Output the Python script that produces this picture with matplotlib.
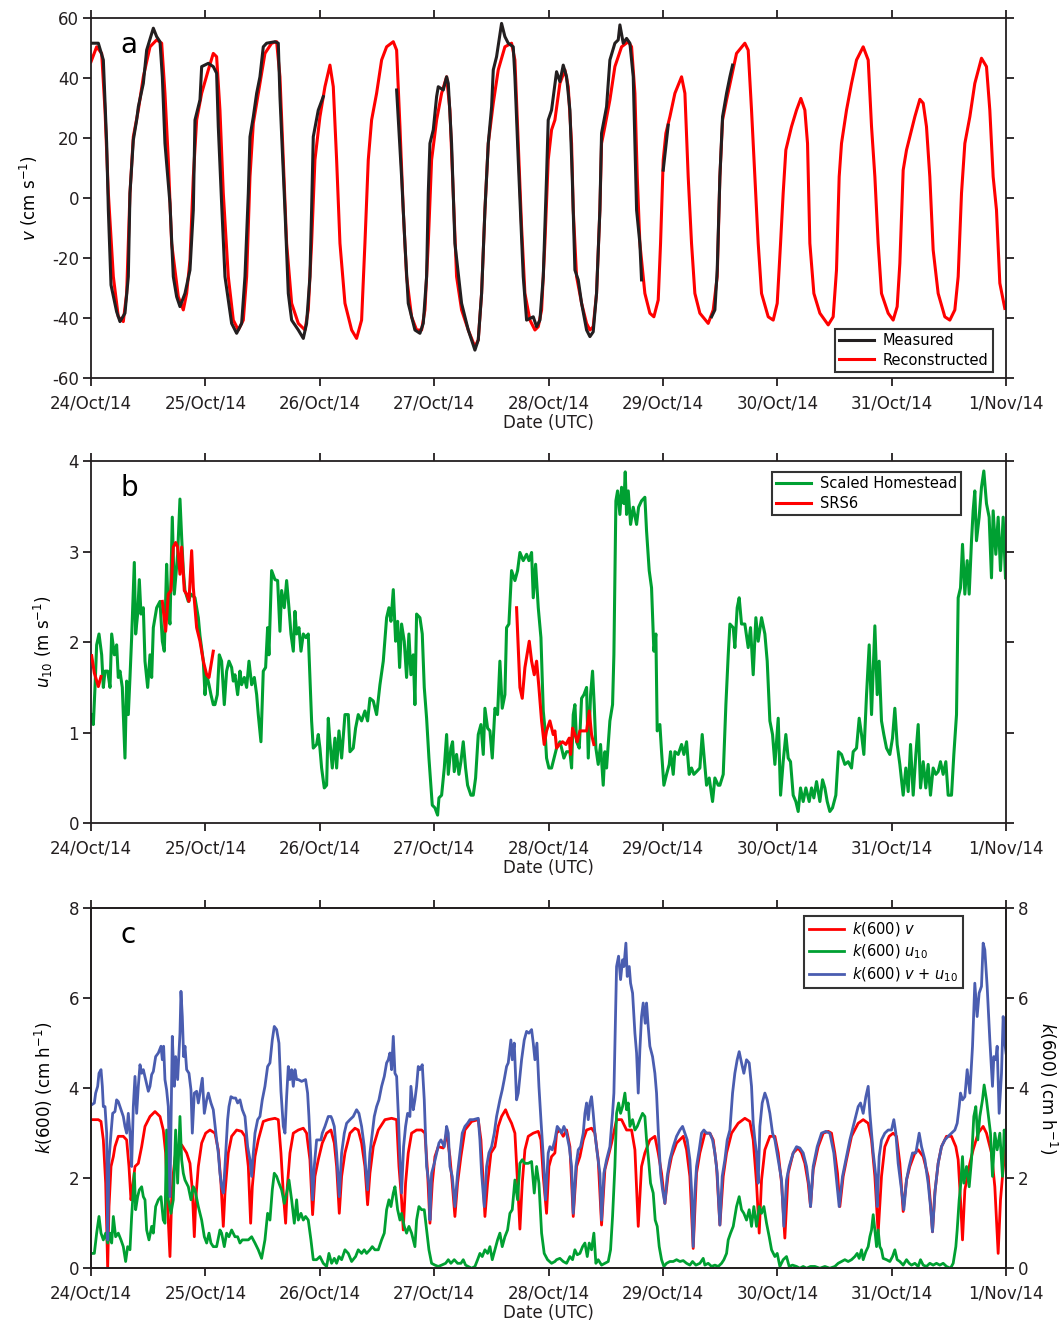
import numpy as np
import matplotlib
matplotlib.use("Agg")
import matplotlib.pyplot as plt

plt.rcParams['font.family'] = ['DejaVu Sans']
plt.rcParams['axes.unicode_minus'] = False

# -----------------------------
# x axis: hours after 24/Oct/14 00:00 UTC
# -----------------------------
day_labels = ['24/Oct/14', '25/Oct/14', '26/Oct/14', '27/Oct/14', '28/Oct/14',
              '29/Oct/14', '30/Oct/14', '31/Oct/14', '1/Nov/14']
day_hours = [0, 24, 48, 72, 96, 120, 144, 168, 192]

# -----------------------------
# panel a : v (cm/s)
# -----------------------------
rec_h = [0.0, 1.19, 2.24, 2.94, 3.64, 4.69, 5.73, 6.78, 7.48, 8.18,
         8.88, 9.93, 10.98, 12.38, 13.78, 14.83, 15.52, 16.22, 16.92, 18.32,
         19.37, 20.07, 20.77, 21.47, 22.17, 23.22, 24.62, 25.66, 26.36, 27.06,
         27.76, 28.81, 29.86, 30.91, 31.96, 32.66, 33.36, 34.06, 35.10, 36.50,
         37.90, 38.95, 39.65, 40.35, 41.05, 42.10, 43.50, 44.90, 45.59, 46.29,
         46.99, 48.04, 49.09, 50.14, 50.84, 51.54, 52.24, 53.29, 54.69, 55.73,
         56.78, 57.48, 58.18, 58.88, 59.93, 60.98, 62.03, 63.43, 64.13, 64.83,
         65.52, 66.22, 67.27, 68.32, 69.37, 70.07, 70.77, 71.47, 72.52, 73.57,
         74.62, 75.31, 76.01, 76.71, 77.76, 79.16, 80.56, 81.26, 81.96, 82.66,
         83.36, 84.41, 85.45, 86.85, 88.25, 88.95, 89.65, 90.35, 91.05, 92.10,
         93.15, 93.85, 94.55, 95.24, 95.94, 96.64, 97.34, 98.39, 99.44, 100.14,
         100.84, 101.19, 101.89, 102.94, 103.99, 104.69, 105.38, 106.08, 106.78, 107.13,
         107.83, 108.88, 109.93, 111.33, 112.73, 113.43, 114.13, 114.62, 115.17, 116.22,
         117.27, 118.11, 119.02, 119.51, 120.07, 120.63, 121.47, 122.52, 123.92, 124.62,
         125.31, 126.01, 126.71, 127.76, 129.51, 130.56, 131.40, 131.96, 132.52, 133.36,
         134.41, 135.45, 137.20, 137.90, 138.60, 139.30, 140.00, 140.70, 142.10, 143.15,
         143.99, 144.69, 145.24, 145.80, 146.99, 148.04, 148.95, 149.79, 150.35, 150.84,
         151.68, 152.94, 154.69, 155.73, 156.43, 156.99, 157.48, 158.53, 159.58, 160.63,
         162.03, 163.08, 163.78, 164.48, 165.17, 165.87, 167.27, 168.32, 169.16, 169.72,
         170.42, 171.12, 171.82, 172.87, 173.92, 174.62, 175.31, 176.01, 176.71, 177.76,
         179.16, 180.21, 181.26, 181.96, 182.66, 183.36, 184.41, 185.45, 186.85, 187.90,
         188.60, 189.30, 190.00, 190.70, 191.75]
rec_v = [45.4, 50.4, 48.2, 29.3, 1.6, -26.2, -39.6, -41.2, -31.8, 1.6,
         20.4, 29.3, 40.4, 50.4, 52.7, 51.6, 34.9, 12.7, -15.1, -32.9,
         -37.3, -31.8, -20.7, 7.1, 26.0, 34.9, 42.7, 48.2, 47.1, 29.3,
         1.6, -26.2, -40.7, -44.0, -40.7, -26.2, 7.1, 24.9, 34.9, 48.2,
         51.6, 52.1, 40.4, 12.7, -15.1, -35.1, -41.8, -44.0, -37.3, -15.1,
         12.7, 27.1, 37.1, 44.3, 37.1, 12.7, -15.1, -35.1, -44.0, -46.8,
         -40.7, -15.1, 12.7, 26.0, 34.9, 46.0, 50.4, 52.1, 49.3, 23.8,
         -4.0, -26.2, -39.6, -44.0, -44.0, -37.3, -15.1, 12.7, 26.0, 34.9,
         40.4, 29.3, 1.6, -26.2, -37.3, -44.0, -49.6, -47.3, -31.8, -4.0,
         18.2, 31.6, 42.7, 50.4, 51.6, 46.0, 18.2, -9.6, -31.8, -40.7,
         -44.0, -42.9, -37.3, -15.1, 12.7, 22.7, 26.0, 38.2, 42.7, 37.1,
         18.2, -4.0, -26.2, -35.1, -41.8, -44.0, -42.9, -31.8, -4.0, 18.2,
         23.8, 32.7, 43.8, 50.4, 52.1, 50.4, 34.9, 7.1, -15.1, -31.8,
         -38.4, -39.6, -34.0, -15.1, 12.7, 21.6, 27.1, 34.9, 40.4, 34.9,
         7.1, -15.1, -31.8, -38.4, -41.8, -37.3, -26.2, 7.1, 26.0, 32.7,
         40.4, 48.2, 51.6, 49.3, 29.3, 7.1, -15.1, -31.8, -39.6, -40.7,
         -35.1, -15.1, 1.6, 16.0, 23.8, 29.3, 33.2, 29.3, 18.2, -15.1,
         -31.8, -38.4, -42.3, -39.6, -24.0, 7.1, 18.2, 29.3, 38.2, 46.0,
         50.4, 46.0, 23.8, 7.1, -15.1, -31.8, -38.4, -40.7, -36.2, -21.8,
         9.3, 16.0, 20.4, 27.1, 32.9, 31.6, 23.8, 7.1, -17.3, -31.8,
         -39.6, -40.7, -37.3, -26.2, 1.6, 18.2, 27.1, 38.2, 46.6, 43.8,
         29.3, 7.1, -4.0, -28.4, -36.8]

nan = np.nan
meas_h = [0.14, 1.54, 2.59, 3.29, 3.64, 4.20, 5.38, 6.08, 7.13, 7.83,
          8.18, 8.88, 9.58, 9.93, 10.98, 11.68, 13.08, 13.78, 14.48, 14.97,
          15.52, 16.57, 17.27, 17.97, 18.67, 19.72, 20.77, 21.47, 21.82, 22.87,
          23.22, 24.62, 25.66, 26.36, 26.71, 27.41, 28.11, 29.51, 30.56, 31.61,
          32.31, 33.01, 33.36, 34.06, 34.76, 35.45, 36.15, 36.85, 38.60, 39.30,
          39.65, 40.70, 41.40, 42.10, 43.50, 44.55, 45.24, 45.94, 46.29, 46.64,
          47.69, 48.74, nan, 64.13, 65.17, 65.87, 66.57, 67.97, 69.02, 69.72,
          70.42, 70.77, 71.12, 71.82, 72.52, 72.87, 73.92, 74.62, 74.97, 75.66,
          76.36, 77.76, 79.16, 80.56, 81.26, 81.96, 82.66, 83.36, 84.06, 84.41,
          85.10, 86.15, 86.85, 87.55, 88.60, 88.95, 89.65, 90.70, 91.40, 92.80,
          93.50, 94.20, 94.90, 95.59, 95.94, 96.64, 97.69, 98.39, 99.09, 99.79,
          100.49, 100.98, 101.54, 102.24, 102.94, 103.99, 104.69, 105.38, 106.08, 106.78,
          107.13, 108.18, 108.88, 109.93, 110.63, 110.98, 111.68, 112.38, 113.08, 113.78,
          114.48, 115.17, 115.52, nan, 120.07, 121.12, nan, 130.21, 130.91, 131.40,
          131.96, 132.52, 133.36, 134.06, 134.62]
meas_v = [51.6, 51.6, 46.0, 18.2, -4.0, -29.0, -37.9, -41.2, -38.4, -26.2,
          1.6, 19.3, 26.0, 30.4, 38.2, 49.3, 56.6, 53.8, 52.1, 40.4,
          18.2, -1.8, -26.2, -32.9, -36.2, -31.8, -24.0, -4.0, 26.0, 32.7,
          43.8, 44.9, 43.8, 41.6, 23.8, -1.8, -26.2, -41.8, -45.1, -41.8,
          -26.2, 1.6, 20.4, 27.1, 34.9, 40.4, 50.4, 51.6, 52.1, 51.6,
          33.8, -4.0, -31.8, -40.7, -44.0, -46.8, -41.8, -26.2, -4.0, 20.4,
          29.3, 33.8, nan, 36.0, 7.1, -15.1, -35.1, -44.0, -45.1, -41.8,
          -26.2, 1.6, 18.2, 22.7, 33.8, 37.1, 36.0, 40.4, 38.2, 18.2,
          -15.1, -35.1, -44.0, -50.7, -47.3, -31.8, -4.0, 18.2, 30.4, 42.7,
          47.1, 58.2, 53.8, 51.6, 50.4, 40.4, 12.7, -26.2, -40.7, -39.6,
          -42.9, -40.7, -26.2, 7.1, 26.0, 29.3, 42.1, 38.8, 44.3, 40.4,
          29.3, 7.1, -24.0, -27.3, -35.1, -44.0, -46.2, -44.6, -31.8, -4.0,
          21.6, 30.4, 46.0, 51.6, 52.7, 57.7, 51.6, 53.2, 51.6, 40.4,
          -4.0, -15.1, -27.3, nan, 9.3, 24.3, nan, -39.6, -37.3, -24.0,
          7.1, 27.1, 34.9, 40.4, 44.3]

# -----------------------------
# panel b : u10 (m/s)
# -----------------------------
home_h = [0.0, 0.49, 0.84, 1.19, 1.68, 2.24, 2.59, 2.94, 3.50, 3.99,
          4.34, 4.90, 5.38, 5.73, 6.08, 6.57, 7.13, 7.48, 7.83, 8.18,
          8.53, 9.09, 9.37, 9.79, 10.14, 10.49, 10.98, 11.33, 11.89, 12.38,
          12.73, 13.08, 13.78, 14.48, 14.97, 15.38, 15.87, 16.22, 16.57, 17.06,
          17.48, 18.18, 18.67, 19.02, 19.37, 19.72, 20.42, 20.98, 21.82, 22.52,
          22.87, 23.57, 23.92, 24.27, 24.76, 25.17, 25.66, 26.01, 26.50, 26.92,
          27.41, 27.97, 28.46, 28.95, 29.51, 29.86, 30.21, 30.77, 31.26, 31.61,
          32.17, 32.66, 33.15, 33.71, 34.27, 34.76, 35.10, 35.66, 36.15, 36.64,
          37.06, 37.34, 37.90, 38.60, 39.16, 39.65, 40.00, 40.56, 41.05, 41.54,
          41.96, 42.45, 42.80, 43.15, 43.64, 44.06, 44.55, 45.10, 45.59, 46.29,
          46.64, 47.34, 47.69, 48.04, 48.39, 48.95, 49.44, 49.79, 50.14, 50.63,
          51.19, 51.54, 52.03, 52.59, 53.29, 53.99, 54.34, 55.03, 55.52, 56.08,
          56.78, 57.48, 58.04, 58.53, 59.23, 59.93, 60.63, 61.33, 62.03, 62.52,
          62.94, 63.43, 63.92, 64.34, 64.76, 65.17, 65.73, 66.22, 66.71, 67.13,
          67.62, 67.97, 68.32, 69.02, 69.51, 69.93, 70.42, 70.91, 71.61, 72.17,
          72.73, 73.01, 73.57, 74.13, 74.62, 74.97, 75.52, 75.87, 76.22, 76.71,
          77.20, 77.62, 78.11, 78.60, 79.02, 79.72, 80.21, 80.70, 81.26, 81.82,
          82.31, 82.66, 83.22, 83.71, 84.20, 84.76, 85.31, 85.80, 86.29, 86.85,
          87.20, 87.69, 88.25, 88.95, 89.51, 90.00, 90.70, 91.40, 91.89, 92.45,
          92.80, 93.29, 93.85, 94.41, 94.90, 95.24, 95.59, 96.08, 96.64, 97.34,
          97.69, 98.39, 98.74, 99.23, 99.79, 100.49, 100.84, 101.19, 101.54, 101.89,
          102.45, 102.94, 103.43, 103.99, 104.34, 104.83, 105.24, 105.59, 105.94, 106.43,
          106.92, 107.48, 107.83, 108.18, 108.88, 109.44, 109.72, 110.14, 110.49, 110.98,
          111.33, 111.82, 112.10, 112.38, 112.73, 113.22, 113.78, 114.48, 114.90, 115.52,
          116.22, 116.57, 117.13, 117.62, 118.11, 118.53, 118.81, 119.37, 119.72, 120.21,
          120.77, 121.33, 121.61, 122.17, 122.52, 123.22, 123.92, 124.41, 124.97, 125.52,
          126.01, 126.50, 127.06, 127.76, 128.25, 128.60, 129.16, 129.72, 130.42, 130.91,
          131.61, 131.96, 132.66, 133.22, 133.71, 134.06, 134.76, 135.10, 135.59, 136.01,
          136.50, 137.20, 137.90, 138.39, 138.95, 139.51, 140.00, 140.70, 141.40, 141.89,
          142.45, 143.01, 143.50, 144.20, 144.69, 145.24, 145.80, 146.29, 146.78, 147.34,
          147.90, 148.39, 148.88, 149.44, 150.00, 150.70, 151.19, 151.68, 152.24, 152.94,
          153.50, 153.99, 154.48, 155.03, 155.59, 156.29, 156.85, 157.48, 158.18, 158.88,
          159.58, 159.93, 160.63, 161.19, 161.68, 162.17, 162.73, 163.29, 163.78, 164.48,
          164.97, 165.38, 165.87, 166.36, 166.92, 167.62, 168.18, 168.67, 169.16, 169.72,
          170.42, 170.98, 171.47, 171.96, 172.52, 173.08, 173.57, 174.06, 174.62, 175.17,
          175.66, 176.15, 176.71, 177.27, 177.76, 178.25, 178.81, 179.37, 179.86, 180.56,
          181.05, 181.61, 181.96, 182.45, 182.87, 183.36, 183.85, 184.27, 184.76, 185.10,
          185.45, 185.80, 186.36, 186.85, 187.34, 187.90, 188.46, 188.95, 189.30, 189.86,
          190.35, 190.84, 191.40, 191.89]
home_u = [1.20, 1.09, 1.50, 1.97, 2.09, 1.86, 1.50, 1.68, 1.68, 1.50,
          2.09, 1.86, 1.97, 1.61, 1.68, 1.50, 0.72, 1.57, 1.20, 1.61,
          2.05, 2.88, 2.09, 2.31, 2.69, 2.31, 2.38, 1.79, 1.50, 1.86,
          1.61, 2.16, 2.38, 2.45, 2.01, 1.90, 2.86, 2.34, 2.20, 3.38,
          2.53, 2.97, 3.58, 3.16, 2.79, 2.57, 2.45, 2.53, 2.49, 2.27,
          2.07, 1.79, 1.42, 1.64, 1.53, 1.42, 1.31, 1.31, 1.42, 1.86,
          1.79, 1.31, 1.68, 1.79, 1.72, 1.57, 1.64, 1.42, 1.68, 1.53,
          1.61, 1.50, 1.79, 1.53, 1.61, 1.42, 1.20, 0.90, 1.68, 1.72,
          2.16, 1.86, 2.79, 2.69, 2.68, 2.12, 2.57, 2.38, 2.68, 2.38,
          2.09, 1.90, 2.34, 2.09, 2.16, 1.90, 2.09, 2.05, 2.09, 1.13,
          0.83, 0.87, 0.98, 0.83, 0.61, 0.39, 0.42, 1.16, 0.90, 0.61,
          0.94, 0.61, 1.02, 0.72, 1.20, 1.20, 0.79, 0.83, 1.05, 1.20,
          1.13, 1.24, 1.13, 1.38, 1.35, 1.20, 1.53, 1.79, 2.27, 2.38,
          2.23, 2.58, 2.01, 2.23, 1.72, 2.20, 2.01, 1.61, 2.09, 1.64,
          1.86, 1.31, 2.31, 2.27, 2.09, 1.50, 1.16, 0.72, 0.20, 0.17,
          0.09, 0.28, 0.31, 0.61, 0.98, 0.54, 0.83, 0.90, 0.57, 0.76,
          0.54, 0.68, 0.90, 0.61, 0.42, 0.31, 0.31, 0.50, 0.98, 1.09,
          0.76, 1.27, 1.05, 1.02, 0.72, 1.27, 1.20, 1.79, 1.27, 1.42,
          2.16, 2.20, 2.79, 2.68, 2.79, 2.99, 2.90, 2.97, 2.90, 2.99,
          2.49, 2.86, 2.38, 2.05, 1.24, 1.05, 0.72, 0.61, 0.61, 0.76,
          0.83, 0.90, 0.83, 0.72, 0.79, 0.79, 0.61, 1.20, 1.31, 0.90,
          0.83, 1.38, 1.42, 1.50, 0.72, 1.42, 1.68, 1.31, 0.83, 0.65,
          0.87, 0.42, 0.79, 0.61, 1.13, 1.31, 1.86, 3.56, 3.67, 3.41,
          3.71, 3.53, 3.88, 3.41, 3.67, 3.30, 3.49, 3.30, 3.49, 3.56,
          3.60, 3.23, 2.79, 2.60, 1.90, 2.09, 1.02, 1.09, 0.79, 0.42,
          0.54, 0.65, 0.79, 0.54, 0.79, 0.76, 0.87, 0.76, 0.90, 0.54,
          0.61, 0.54, 0.57, 0.61, 0.98, 0.76, 0.42, 0.50, 0.24, 0.50,
          0.42, 0.42, 0.54, 1.31, 1.86, 2.20, 2.16, 1.94, 2.38, 2.49,
          2.20, 2.20, 1.94, 2.16, 1.64, 2.27, 2.01, 2.27, 2.09, 1.79,
          1.13, 0.98, 0.65, 1.16, 0.31, 0.68, 0.98, 0.72, 0.68, 0.31,
          0.24, 0.13, 0.39, 0.24, 0.39, 0.24, 0.39, 0.28, 0.46, 0.24,
          0.48, 0.39, 0.24, 0.13, 0.17, 0.31, 0.79, 0.76, 0.65, 0.68,
          0.61, 0.79, 0.83, 1.16, 0.98, 0.76, 1.42, 1.97, 1.20, 2.18,
          1.42, 1.79, 1.13, 0.98, 0.83, 0.76, 0.94, 1.27, 0.87, 0.65,
          0.31, 0.61, 0.35, 0.87, 0.31, 0.76, 1.09, 0.39, 0.68, 0.39,
          0.65, 0.31, 0.61, 0.54, 0.57, 0.68, 0.54, 0.68, 0.31, 0.31,
          0.76, 1.20, 2.49, 2.60, 3.08, 2.53, 2.90, 2.53, 3.12, 3.45,
          3.67, 3.12, 3.38, 3.71, 3.89, 3.53, 3.38, 2.71, 3.45, 2.97,
          3.38, 2.79, 3.38, 2.71]

srs_h = [0.14, 0.70, 1.54, 2.10, nan,
         14.97, 15.66, 16.22, 16.78, 17.27, 17.76, 18.18, 18.67, 19.02, 19.58,
         20.07, 20.56, 21.12, 21.47, 22.17, 22.87, 23.57, 24.27, 24.76, 25.66, nan,
         89.30, 90.00, 90.49, 91.05, 91.96, 92.45, 93.01, 93.50, 93.99, 94.55,
         95.10, 95.59, 96.29, 96.99, 97.34, 97.69, 98.25, 98.95, 99.65, 100.35,
         100.63, 101.05, 101.54, 102.03, 102.59, 103.29, 103.99, 104.55, 105.03, 105.52]
srs_u = [1.85, 1.66, 1.51, 1.62, nan,
         2.45, 2.12, 2.53, 2.57, 3.05, 3.10, 3.05, 2.75, 3.05, 2.57,
         2.53, 2.45, 3.01, 2.60, 2.16, 2.01, 1.79, 1.64, 1.61, 1.90, nan,
         2.38, 1.50, 1.38, 1.72, 2.01, 1.79, 1.64, 1.79, 1.50, 1.13,
         0.87, 1.02, 1.13, 0.98, 1.02, 0.83, 0.87, 0.90, 0.87, 0.94,
         0.76, 1.05, 0.98, 0.90, 1.02, 1.02, 1.02, 1.24, 0.98, 0.87]

# -----------------------------
# panel c : k(600) (cm/h)
# -----------------------------
kv_h = [0.14, 1.54, 2.10, 2.59, 3.08, 3.50, 3.78, 4.20, 4.69, 5.03,
        5.73, 6.78, 7.48, 7.97, 8.39, 8.67, 9.23, 9.93, 10.63, 11.33,
        12.38, 13.43, 14.48, 15.17, 15.66, 16.08, 16.57, 16.92, 17.27, 17.76,
        18.32, 19.02, 20.07, 20.77, 21.26, 21.68, 22.03, 22.52, 23.22, 24.06,
        24.97, 26.01, 26.71, 27.27, 27.76, 28.11, 28.81, 29.51, 30.56, 31.61,
        32.31, 33.01, 33.50, 33.85, 34.41, 35.10, 36.15, 37.20, 38.60, 39.30,
        39.86, 40.35, 40.84, 41.19, 41.75, 42.45, 43.50, 44.55, 45.24, 45.94,
        46.50, 46.99, 47.69, 48.53, 49.44, 50.35, 51.05, 51.54, 52.10, 52.59,
        53.29, 54.34, 55.38, 56.08, 56.78, 57.48, 58.04, 58.53, 59.23, 60.28,
        61.68, 63.08, 64.13, 64.62, 65.17, 65.52, 66.01, 66.57, 67.27, 68.32,
        69.37, 70.07, 70.63, 71.12, 71.61, 72.17, 72.87, 73.92, 74.62, 75.31,
        75.80, 76.36, 76.92, 77.62, 78.46, 79.86, 81.26, 81.82, 82.31, 82.66,
        83.22, 83.92, 84.76, 85.45, 86.15, 86.99, 87.55, 88.25, 88.95, 89.51,
        90.00, 90.49, 91.05, 91.75, 92.80, 93.85, 94.41, 94.90, 95.59, 96.08,
        96.64, 97.34, 97.69, 98.39, 99.09, 99.79, 100.49, 101.19, 101.89, 102.59,
        103.29, 103.99, 105.03, 105.73, 106.43, 107.13, 107.83, 108.53, 109.23, 110.28,
        111.33, 112.38, 113.43, 114.13, 114.83, 115.52, 116.22, 117.27, 118.32, 119.02,
        119.72, 120.42, 121.12, 121.82, 122.87, 124.27, 124.97, 125.66, 126.36, 127.06,
        127.76, 128.81, 129.86, 130.56, 131.26, 131.96, 132.66, 133.36, 134.41, 135.80,
        137.20, 138.25, 138.95, 139.65, 140.21, 140.70, 141.40, 142.45, 143.50, 144.20,
        144.90, 145.59, 146.29, 147.34, 148.39, 149.09, 149.79, 150.49, 150.98, 151.54,
        152.59, 153.64, 154.69, 155.38, 156.08, 156.64, 157.13, 157.83, 158.53, 159.58,
        160.98, 162.03, 163.08, 163.78, 164.48, 165.17, 165.87, 166.57, 167.48, 168.32,
        169.02, 169.72, 170.42, 171.12, 171.82, 172.87, 173.57, 174.62, 175.66, 176.15,
        176.57, 177.06, 177.76, 178.46, 179.51, 180.56, 181.47, 181.96, 182.45, 182.87,
        183.36, 184.41, 185.10, 186.15, 187.20, 187.90, 188.95, 189.65, 190.35, 190.84,
        191.26, 191.75, 192.0]
kv_k = [3.30, 3.30, 3.26, 2.85, 1.89, 0.00, 1.37, 2.26, 2.48, 2.70,
        2.93, 2.93, 2.85, 2.26, 1.52, 1.74, 2.26, 2.33, 2.70, 3.15,
        3.37, 3.48, 3.37, 3.07, 2.56, 1.37, 0.26, 1.52, 2.11, 2.56,
        2.70, 2.74, 2.56, 2.33, 1.74, 0.70, 1.59, 2.26, 2.78, 3.00,
        3.07, 3.00, 2.63, 1.89, 0.93, 1.67, 2.56, 2.93, 3.07, 3.04,
        2.93, 2.26, 1.00, 1.81, 2.48, 2.85, 3.26, 3.30, 3.33, 3.30,
        2.56, 1.67, 1.00, 1.81, 2.56, 3.00, 3.07, 3.11, 3.00, 2.41,
        1.19, 2.04, 2.41, 2.78, 3.00, 3.07, 2.78, 2.26, 1.22, 2.04,
        2.56, 3.00, 3.11, 3.07, 2.78, 2.26, 1.41, 2.11, 2.70, 3.07,
        3.30, 3.33, 3.30, 2.26, 1.52, 0.85, 1.89, 2.56, 3.00, 3.07,
        3.07, 3.00, 2.11, 1.00, 1.89, 2.48, 2.70, 2.67, 3.00, 2.48,
        1.89, 1.15, 1.89, 2.48, 3.07, 3.26, 3.30, 2.85, 1.89, 1.15,
        1.89, 2.56, 2.70, 3.15, 3.37, 3.52, 3.37, 3.22, 3.00, 1.89,
        0.87, 1.89, 2.63, 2.93, 3.00, 3.04, 2.85, 2.04, 1.22, 2.26,
        2.48, 2.56, 3.00, 3.07, 2.93, 3.07, 2.70, 1.15, 2.26, 2.48,
        2.85, 3.07, 3.11, 3.00, 2.41, 0.96, 2.19, 2.48, 2.78, 3.30,
        3.30, 3.07, 3.07, 2.63, 0.93, 2.26, 2.56, 2.85, 2.93, 2.56,
        2.11, 1.44, 2.11, 2.48, 2.78, 2.93, 2.63, 2.04, 0.44, 2.11,
        2.56, 3.00, 3.00, 2.85, 2.26, 0.96, 2.04, 2.56, 3.00, 3.22,
        3.33, 3.26, 2.85, 1.89, 0.78, 1.96, 2.63, 2.93, 2.93, 2.56,
        1.89, 0.67, 2.11, 2.56, 2.67, 2.56, 2.33, 1.89, 1.37, 2.19,
        2.70, 3.00, 3.04, 3.00, 2.56, 2.11, 1.37, 2.04, 2.41, 2.93,
        3.22, 3.30, 3.22, 2.85, 2.04, 0.78, 2.04, 2.70, 2.93, 3.00,
        2.93, 2.33, 1.26, 1.96, 2.26, 2.56, 2.63, 2.48, 2.04, 1.44,
        0.81, 1.67, 2.33, 2.70, 2.93, 2.93, 2.70, 2.41, 1.52, 0.63,
        1.74, 2.33, 2.63, 3.00, 3.15, 3.00, 2.56, 1.81, 0.33, 1.52,
        2.04, 2.56, 2.70]

ku_h = [0.14, 0.70, 1.19, 1.68, 2.10, 2.59, 3.08, 3.50, 3.99, 4.34,
        4.69, 5.17, 5.73, 6.29, 6.78, 7.27, 7.69, 8.18, 8.53, 9.09,
        9.37, 9.79, 10.14, 10.63, 10.98, 11.33, 11.68, 12.17, 12.73, 13.08,
        13.57, 14.13, 14.69, 15.17, 15.52, 15.87, 16.22, 16.78, 17.27, 17.76,
        18.18, 18.67, 19.02, 19.37, 19.72, 20.42, 20.98, 21.47, 21.82, 22.52,
        23.22, 23.78, 24.27, 24.76, 25.17, 25.66, 26.36, 27.06, 27.41, 27.97,
        28.46, 28.95, 29.51, 30.21, 30.77, 31.26, 31.75, 32.31, 33.01, 33.71,
        34.41, 35.10, 35.80, 36.50, 37.06, 37.55, 38.04, 38.46, 38.95, 39.44,
        40.00, 40.56, 41.05, 41.54, 42.10, 42.66, 43.15, 43.50, 44.06, 44.55,
        45.03, 45.59, 46.15, 46.64, 47.34, 48.04, 48.74, 49.44, 49.93, 50.49,
        51.05, 51.54, 52.03, 52.59, 53.29, 53.99, 54.69, 55.52, 56.08, 56.78,
        57.34, 57.83, 58.53, 59.02, 59.58, 60.28, 60.98, 61.54, 62.03, 62.52,
        62.94, 63.43, 63.78, 64.34, 64.83, 65.17, 65.73, 66.22, 66.71, 67.27,
        67.97, 68.32, 68.81, 69.37, 69.93, 70.42, 70.91, 71.47, 72.17, 72.87,
        73.57, 74.41, 74.97, 75.52, 76.22, 76.92, 77.62, 78.11, 78.60, 79.16,
        79.86, 80.56, 81.12, 81.61, 82.10, 82.66, 83.22, 83.71, 84.20, 84.76,
        85.31, 85.80, 86.29, 86.85, 87.41, 87.90, 88.39, 88.95, 89.51, 90.00,
        90.49, 91.05, 91.75, 92.45, 93.01, 93.50, 93.99, 94.55, 95.10, 95.80,
        96.64, 97.34, 97.69, 98.39, 99.09, 99.79, 100.49, 101.05, 101.54, 102.03,
        102.59, 103.15, 103.64, 104.13, 104.55, 105.03, 105.52, 105.94, 106.43, 107.13,
        107.83, 108.53, 109.02, 109.44, 109.93, 110.28, 110.70, 111.12, 111.54, 112.03,
        112.38, 112.73, 113.08, 113.64, 114.13, 114.62, 115.17, 115.73, 116.22, 116.57,
        116.99, 117.41, 117.97, 118.39, 118.81, 119.23, 119.72, 120.21, 120.77, 121.47,
        122.17, 122.87, 123.57, 124.27, 124.97, 125.66, 126.22, 126.92, 127.76, 128.46,
        128.81, 129.51, 130.21, 130.91, 131.61, 132.31, 132.80, 133.36, 133.71, 134.20,
        134.76, 135.45, 136.01, 136.50, 136.99, 137.55, 138.11, 138.60, 139.09, 139.65,
        140.21, 140.70, 141.19, 141.75, 142.31, 142.80, 143.50, 143.99, 144.55, 145.24,
        145.94, 146.50, 147.20, 148.04, 148.74, 149.44, 150.14, 150.98, 151.89, 152.94,
        153.99, 155.03, 156.08, 156.78, 157.48, 158.18, 158.88, 159.58, 160.28, 160.77,
        161.19, 161.68, 162.03, 162.59, 163.08, 163.43, 163.78, 164.13, 164.48, 164.83,
        165.17, 165.52, 165.87, 166.22, 166.92, 167.62, 168.18, 168.67, 169.16, 169.72,
        170.42, 171.12, 171.68, 172.17, 172.87, 173.57, 174.06, 174.62, 175.31, 176.01,
        176.71, 177.41, 178.11, 178.81, 179.51, 180.35, 180.91, 181.47, 181.75, 182.17,
        182.45, 182.87, 183.15, 183.71, 184.27, 184.76, 185.24, 185.66, 186.08, 186.50,
        187.06, 187.41, 187.90, 188.32, 188.74, 189.16, 189.65, 190.14, 190.70, 191.26,
        191.61, 192.0]
ku_k = [0.33, 0.33, 0.78, 1.15, 0.78, 0.63, 0.78, 0.56, 0.78, 0.56,
        1.15, 0.70, 0.78, 0.63, 0.48, 0.15, 0.48, 0.41, 1.15, 2.11,
        1.30, 1.59, 1.74, 1.81, 1.59, 1.52, 0.85, 0.63, 0.93, 0.78,
        1.37, 1.52, 1.59, 1.07, 1.00, 3.07, 1.52, 1.22, 1.52, 3.07,
        1.89, 3.37, 2.41, 2.11, 1.96, 1.81, 1.52, 1.81, 1.74, 1.37,
        1.07, 0.70, 0.56, 0.78, 0.56, 0.48, 0.48, 0.85, 0.78, 0.48,
        0.78, 0.70, 0.85, 0.70, 0.70, 0.56, 0.63, 0.63, 0.63, 0.70,
        0.56, 0.41, 0.22, 0.63, 1.22, 1.07, 1.74, 2.11, 2.04, 1.89,
        1.74, 1.44, 1.67, 1.96, 1.52, 1.00, 1.52, 1.07, 1.22, 1.07,
        1.15, 1.07, 0.63, 0.19, 0.19, 0.26, 0.11, 0.04, 0.33, 0.11,
        0.22, 0.11, 0.26, 0.19, 0.41, 0.33, 0.15, 0.26, 0.41, 0.33,
        0.41, 0.33, 0.41, 0.48, 0.41, 0.41, 0.63, 0.78, 1.30, 1.52,
        1.37, 1.67, 1.81, 1.30, 1.07, 1.22, 0.93, 0.78, 0.93, 0.78,
        0.48, 1.07, 1.37, 1.30, 1.30, 0.85, 0.41, 0.11, 0.07, 0.04,
        0.07, 0.11, 0.19, 0.11, 0.19, 0.11, 0.11, 0.19, 0.07, 0.04,
        0.00, 0.04, 0.19, 0.33, 0.26, 0.41, 0.33, 0.48, 0.19, 0.41,
        0.63, 0.78, 0.48, 0.70, 0.85, 1.22, 1.30, 1.96, 1.52, 2.33,
        2.41, 2.33, 2.33, 2.37, 1.67, 2.26, 1.89, 0.78, 0.33, 0.19,
        0.11, 0.15, 0.19, 0.22, 0.15, 0.11, 0.26, 0.19, 0.41, 0.30,
        0.33, 0.48, 0.56, 0.26, 0.56, 0.41, 0.78, 0.11, 0.19, 0.07,
        0.11, 0.15, 0.41, 1.15, 2.26, 3.44, 3.67, 3.44, 3.59, 3.89,
        3.52, 3.67, 3.15, 3.30, 3.07, 3.15, 3.30, 3.44, 3.37, 2.85,
        2.41, 1.89, 1.67, 1.07, 0.93, 0.48, 0.19, 0.04, 0.11, 0.15,
        0.15, 0.19, 0.15, 0.17, 0.11, 0.07, 0.15, 0.07, 0.11, 0.22,
        0.07, 0.11, 0.04, 0.07, 0.04, 0.11, 0.19, 0.33, 0.63, 0.78,
        0.93, 1.37, 1.59, 1.30, 1.22, 1.07, 1.30, 0.93, 1.37, 0.93,
        1.37, 1.22, 1.37, 1.00, 0.70, 0.41, 0.26, 0.33, 0.04, 0.19,
        0.26, 0.04, 0.07, 0.04, 0.00, 0.04, 0.00, 0.04, 0.04, 0.00,
        0.04, 0.00, 0.04, 0.11, 0.15, 0.19, 0.15, 0.19, 0.26, 0.33,
        0.22, 0.41, 0.19, 0.37, 0.48, 0.70, 0.85, 1.19, 0.85, 0.48,
        0.85, 0.48, 0.41, 0.22, 0.19, 0.15, 0.26, 0.41, 0.19, 0.15,
        0.07, 0.19, 0.11, 0.07, 0.11, 0.04, 0.19, 0.07, 0.04, 0.11,
        0.07, 0.11, 0.07, 0.11, 0.04, 0.00, 0.11, 0.48, 0.85, 1.52,
        1.81, 2.48, 1.89, 2.26, 1.81, 2.41, 3.37, 3.59, 2.85, 3.37,
        3.74, 4.07, 3.74, 3.37, 3.00, 2.04, 3.00, 2.63, 3.00, 2.04,
        3.07, 2.78]

kvu_h = [0.14, 0.70, 0.98, 1.40, 1.68, 2.10, 2.38, 2.59, 2.94, 3.29,
         3.50, 3.78, 4.20, 4.55, 5.03, 5.38, 5.73, 6.29, 6.78, 7.13,
         7.48, 7.83, 8.18, 8.53, 8.88, 9.23, 9.58, 9.93, 10.28, 10.63,
         10.98, 11.47, 12.03, 12.38, 12.73, 13.08, 13.57, 14.13, 14.69, 14.97,
         15.24, 15.52, 15.87, 16.22, 16.57, 17.06, 17.48, 17.76, 18.18, 18.67,
         18.88, 19.16, 19.44, 19.72, 20.07, 20.56, 20.98, 21.26, 21.68, 22.17,
         22.52, 22.87, 23.36, 23.78, 24.27, 24.62, 25.17, 25.66, 26.36, 26.71,
         27.06, 27.41, 27.76, 28.11, 28.67, 28.95, 29.37, 29.86, 30.35, 30.77,
         31.26, 31.75, 32.31, 32.87, 33.36, 33.71, 34.06, 34.41, 34.97, 35.45,
         35.94, 36.50, 37.06, 37.55, 38.04, 38.46, 38.95, 39.44, 39.86, 40.35,
         40.70, 41.05, 41.40, 41.75, 42.10, 42.45, 42.80, 43.15, 43.50, 44.20,
         45.03, 45.45, 45.73, 46.15, 46.50, 46.85, 47.34, 47.69, 48.25, 48.53,
         49.09, 49.79, 50.35, 50.63, 51.05, 51.54, 52.10, 52.59, 53.15, 53.64,
         54.34, 55.03, 55.73, 56.22, 56.78, 57.34, 57.62, 58.04, 58.53, 59.02,
         59.44, 59.93, 60.42, 60.98, 61.54, 62.03, 62.38, 62.73, 63.08, 63.43,
         63.78, 64.13, 64.48, 64.83, 65.17, 65.59, 66.01, 66.43, 66.92, 67.13,
         67.62, 67.97, 68.32, 68.67, 69.02, 69.51, 69.93, 70.42, 70.91, 71.12,
         71.47, 72.03, 72.52, 73.01, 73.43, 74.13, 74.62, 74.97, 75.31, 75.80,
         76.36, 76.92, 77.41, 77.90, 78.46, 79.02, 79.51, 80.21, 81.26, 81.61,
         81.96, 82.52, 83.01, 83.50, 84.06, 84.62, 85.10, 85.80, 86.29, 86.71,
         87.20, 87.55, 88.11, 88.39, 88.81, 89.30, 89.65, 90.00, 90.35, 90.91,
         91.40, 91.89, 92.45, 92.80, 93.15, 93.57, 93.99, 94.41, 94.90, 95.38,
         95.94, 96.29, 96.78, 97.34, 97.83, 98.39, 98.74, 99.23, 99.79, 100.35,
         100.84, 101.19, 101.75, 102.24, 102.73, 103.29, 103.64, 103.99, 104.34, 104.69,
         105.03, 105.38, 105.73, 106.22, 106.78, 107.13, 107.62, 108.18, 108.88, 109.44,
         109.72, 110.28, 110.70, 111.12, 111.54, 111.82, 112.24, 112.52, 112.94, 113.22,
         113.64, 114.13, 114.48, 114.83, 115.17, 115.52, 115.87, 116.29, 116.57, 116.92,
         117.27, 117.83, 118.32, 118.67, 119.02, 119.51, 119.93, 120.42, 120.91, 121.47,
         122.17, 122.87, 123.57, 124.13, 124.62, 125.10, 125.66, 126.01, 126.36, 126.71,
         127.06, 127.62, 128.11, 128.60, 129.16, 129.86, 130.42, 130.91, 131.40, 131.96,
         132.45, 133.01, 133.50, 134.06, 134.62, 135.10, 135.59, 136.01, 136.50, 136.99,
         137.55, 138.11, 138.60, 138.95, 139.30, 139.65, 140.00, 140.35, 140.84, 141.40,
         141.89, 142.45, 143.01, 143.50, 144.20, 144.90, 145.38, 145.94, 146.50, 147.34,
         148.04, 148.74, 149.44, 150.14, 150.70, 150.98, 151.54, 152.38, 153.29, 154.20,
         155.03, 155.87, 156.43, 156.99, 157.69, 158.39, 159.23, 160.28, 160.98, 161.47,
         162.03, 162.59, 163.08, 163.43, 163.78, 164.13, 164.69, 164.97, 165.38, 165.87,
         166.57, 167.27, 167.97, 168.46, 168.88, 169.37, 170.07, 170.56, 171.12, 171.68,
         172.38, 173.08, 173.78, 174.27, 174.97, 175.66, 176.15, 176.57, 177.13, 177.76,
         178.46, 179.16, 179.86, 180.56, 181.26, 181.75, 182.17, 182.45, 182.87, 183.36,
         183.85, 184.41, 184.97, 185.45, 185.94, 186.36, 186.85, 187.20, 187.55, 188.04,
         188.60, 189.16, 189.44, 189.86, 190.14, 190.56, 191.05, 191.40, 191.75, 192.0]
kvu_k = [3.63, 3.67, 3.89, 4.04, 4.33, 4.41, 4.04, 3.59, 3.59, 3.00,
         0.63, 2.41, 3.00, 3.44, 3.48, 3.74, 3.70, 3.52, 3.37, 3.15,
         3.00, 3.44, 3.00, 2.26, 3.59, 4.26, 3.44, 4.04, 4.52, 4.33,
         4.41, 4.19, 3.93, 4.04, 4.30, 4.37, 4.70, 4.78, 4.93, 4.63,
         4.93, 4.19, 3.96, 3.59, 1.59, 5.15, 4.04, 4.70, 4.19, 5.22,
         6.15, 5.59, 4.70, 4.93, 4.41, 4.33, 3.96, 3.00, 3.89, 3.93,
         3.67, 3.89, 4.22, 3.44, 3.74, 3.89, 3.67, 3.52, 2.85, 2.56,
         2.11, 1.81, 1.67, 2.26, 3.30, 3.59, 3.81, 3.78, 3.78, 3.67,
         3.74, 3.52, 3.37, 2.70, 2.41, 2.04, 2.56, 3.00, 3.30, 3.37,
         3.74, 4.04, 4.48, 4.56, 5.07, 5.37, 5.30, 5.00, 3.93, 3.15,
         3.00, 3.81, 4.48, 4.19, 4.41, 4.04, 4.41, 4.19, 4.19, 4.15,
         4.19, 3.89, 3.37, 2.41, 1.52, 2.26, 2.85, 2.85, 2.85, 3.00,
         3.15, 3.37, 3.37, 3.30, 3.15, 2.56, 1.59, 2.56, 3.00, 3.22,
         3.30, 3.37, 3.52, 3.44, 3.15, 2.70, 2.26, 1.74, 2.56, 3.00,
         3.37, 3.59, 3.74, 4.04, 4.26, 4.56, 4.63, 4.78, 4.41, 5.15,
         4.33, 4.26, 3.44, 2.41, 1.67, 2.70, 3.15, 3.44, 3.37, 4.04,
         3.52, 3.74, 4.04, 4.48, 4.41, 4.52, 3.74, 2.26, 1.89, 1.07,
         2.11, 2.33, 2.56, 2.78, 2.85, 2.70, 3.15, 3.00, 2.26, 2.04,
         1.37, 2.11, 2.56, 3.00, 3.15, 3.22, 3.30, 3.30, 3.33, 2.85,
         2.11, 1.37, 2.26, 2.56, 2.70, 3.00, 3.37, 3.74, 3.96, 4.19,
         4.48, 4.56, 5.07, 4.63, 5.00, 3.74, 3.89, 4.26, 4.63, 5.07,
         5.26, 5.22, 5.30, 5.00, 4.63, 5.00, 4.04, 3.30, 2.48, 1.52,
         2.56, 2.70, 2.63, 2.85, 3.15, 3.07, 3.00, 3.15, 3.00, 2.70,
         2.26, 1.22, 2.26, 2.63, 2.70, 3.00, 3.44, 3.67, 3.30, 3.67,
         3.81, 3.44, 3.00, 2.56, 2.11, 1.07, 2.11, 2.41, 2.70, 3.44,
         3.89, 6.70, 6.93, 6.41, 6.85, 6.70, 7.22, 6.48, 6.70, 6.33,
         6.11, 5.22, 4.78, 3.89, 4.85, 5.59, 5.89, 5.44, 5.89, 5.37,
         4.93, 4.70, 4.33, 3.89, 3.07, 2.11, 1.74, 1.44, 2.04, 2.41,
         2.70, 2.93, 3.07, 3.15, 3.00, 2.85, 2.41, 1.74, 0.48, 1.67,
         2.26, 2.63, 3.00, 3.07, 3.00, 3.00, 2.85, 2.56, 2.11, 0.96,
         2.04, 2.41, 2.85, 3.07, 3.89, 4.33, 4.63, 4.81, 4.56, 4.33,
         4.63, 4.56, 4.04, 3.22, 2.85, 2.56, 1.89, 3.15, 3.67, 3.89,
         3.74, 3.44, 3.00, 2.85, 2.41, 1.96, 0.93, 1.96, 2.26, 2.56,
         2.70, 2.67, 2.56, 2.26, 1.81, 1.37, 2.26, 2.70, 3.00, 3.04,
         3.00, 2.56, 1.96, 1.37, 2.04, 2.41, 2.85, 3.30, 3.59, 3.67,
         3.44, 3.81, 4.04, 3.44, 3.00, 2.56, 2.04, 1.37, 2.48, 2.85,
         3.00, 3.07, 3.07, 3.30, 3.00, 2.33, 1.74, 1.30, 1.96, 2.26,
         2.56, 2.56, 3.00, 2.70, 2.41, 1.89, 1.37, 0.81, 1.74, 2.33,
         2.70, 2.85, 2.93, 3.00, 3.07, 3.22, 3.59, 3.89, 3.74, 3.81,
         4.41, 3.89, 4.93, 6.33, 5.59, 6.11, 6.26, 7.22, 7.07, 6.26,
         5.07, 4.04, 4.70, 4.63, 4.93, 3.44, 4.33, 5.59, 5.00, 4.78]

# -----------------------------
# 스타일
# -----------------------------
c_black = '#231f20'
c_red = '#ff0000'
c_green = '#00a032'
c_blue = '#4a5db0'
fs = 12

fig = plt.figure(figsize=(10.63, 13.24), dpi=100)
ax_a = fig.add_axes([0.0856, 0.7145, 0.8608, 0.2719])
ax_b = fig.add_axes([0.0856, 0.3782, 0.8608, 0.2736])
ax_c = fig.add_axes([0.0856, 0.0421, 0.8608, 0.2721])


def style(ax):
    ax.set_xlim(0, 192)
    ax.set_xticks(day_hours)
    ax.set_xticklabels(day_labels)
    ax.tick_params(direction='out', length=5.5, width=1.3, top=True, right=True,
                   labelsize=fs, colors=c_black)
    ax.tick_params(axis='x', pad=6.5)
    ax.tick_params(axis='y', pad=3)
    for s in ax.spines.values():
        s.set_linewidth(1.3)
        s.set_color(c_black)
    ax.set_xlabel('Date (UTC)', fontsize=fs, color=c_black, labelpad=1)


def legend(ax, handles, labels, loc, anchor):
    leg = ax.legend(handles, labels, loc=loc, bbox_to_anchor=anchor, fontsize=10.5,
                    fancybox=False, framealpha=1, edgecolor='#333333',
                    handlelength=2.4, handletextpad=0.6, borderpad=0.3,
                    labelspacing=0.3, borderaxespad=0)
    leg.get_frame().set_linewidth(1.5)
    return leg


# panel a
l_rec, = ax_a.plot(rec_h, rec_v, color=c_red, lw=2.2, zorder=2)
l_meas, = ax_a.plot(meas_h, meas_v, color=c_black, lw=2.2, zorder=3)
ax_a.set_ylim(-60, 60)
ax_a.set_yticks(np.arange(-60, 61, 20))
style(ax_a)
ax_a.set_ylabel(r'$v$ (cm s$^{-1}$)', fontsize=fs, labelpad=9)
legend(ax_a, [l_meas, l_rec], ['Measured', 'Reconstructed'], 'lower right', (0.986, 0.017))
ax_a.text(0.032, 0.925, 'a', transform=ax_a.transAxes, fontsize=20, va='center')

# panel b
l_home, = ax_b.plot(home_h, home_u, color=c_green, lw=2.2, zorder=2)
l_srs, = ax_b.plot(srs_h, srs_u, color=c_red, lw=2.2, zorder=3)
ax_b.set_ylim(0, 4)
ax_b.set_yticks([0, 1, 2, 3, 4])
style(ax_b)
ax_b.set_ylabel(r'$u_{10}$ (m s$^{-1}$)', fontsize=fs, labelpad=10)
legend(ax_b, [l_home, l_srs], ['Scaled Homestead', 'SRS6'], 'upper right', (0.951, 0.97))
ax_b.text(0.032, 0.925, 'b', transform=ax_b.transAxes, fontsize=20, va='center')

# panel c
l_kv, = ax_c.plot(kv_h, kv_k, color=c_red, lw=2.0, zorder=2)
l_ku, = ax_c.plot(ku_h, ku_k, color=c_green, lw=2.0, zorder=3)
l_kvu, = ax_c.plot(kvu_h, kvu_k, color=c_blue, lw=2.0, zorder=4)
ax_c.set_ylim(0, 8)
ax_c.set_yticks([0, 2, 4, 6, 8])
ax_r = ax_c.twinx()
style(ax_c)
ax_c.tick_params(right=False)
ax_c.set_ylabel(r'$k$(600) (cm h$^{-1}$)', fontsize=fs, labelpad=10)
ax_r.set_ylim(0, 8)
ax_r.set_yticks([0, 2, 4, 6, 8])
ax_r.tick_params(direction='out', length=5.5, width=1.3, labelsize=fs, colors=c_black, pad=3)
for s in ax_r.spines.values():
    s.set_linewidth(1.3)
    s.set_color(c_black)
ax_r.set_ylabel(r'$k$(600) (cm h$^{-1}$)', fontsize=fs, rotation=270, labelpad=22)
legend(ax_c, [l_kv, l_ku, l_kvu],
       [r'$k$(600) $v$', r'$k$(600) $u_{10}$', r'$k$(600) $v$ + $u_{10}$'],
       'upper right', (0.953, 0.978))
ax_c.text(0.032, 0.925, 'c', transform=ax_c.transAxes, fontsize=20, va='center')

fig.savefig('out.png', dpi=100)
